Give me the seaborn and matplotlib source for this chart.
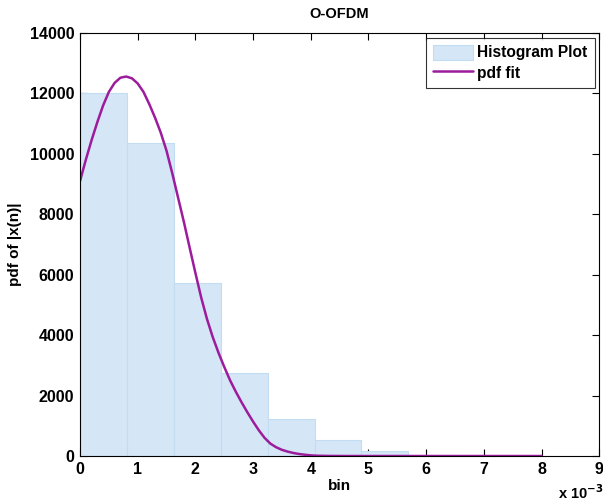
import numpy as np
import pandas as pd
import matplotlib
matplotlib.use("Agg")
import matplotlib.pyplot as plt
import seaborn as sns

# Data (x in units of 1e-3)
bin_edges = [0.0, 0.813, 1.626, 2.439, 3.252, 4.065, 4.878, 5.691, 6.504, 7.317, 8.13]
bin_counts = [12000, 10350, 5730, 2745, 1215, 530, 155, 35, 8, 2]
fit_x = [0.0, 0.1, 0.2, 0.3, 0.4, 0.5, 0.6, 0.7, 0.8, 0.9, 1.0, 1.1, 1.2, 1.3,
         1.4, 1.5, 1.6, 1.7, 1.8, 1.9, 2.0, 2.1, 2.2, 2.3, 2.4, 2.5, 2.6, 2.7,
         2.8, 2.9, 3.0, 3.1, 3.2, 3.3, 3.4, 3.5, 3.6, 3.7, 3.8, 3.9, 4.0, 4.1,
         4.3, 4.6, 5.0, 6.0, 7.0, 8.0]
fit_y = [9100, 9800, 10450, 11050, 11600, 12050, 12350, 12520, 12560, 12500,
         12330, 12050, 11650, 11200, 10700, 10100, 9350, 8550, 7750, 6900,
         6060, 5250, 4540, 3940, 3420, 2950, 2510, 2130, 1780, 1450, 1140, 850,
         600, 410, 290, 205, 145, 100, 66, 42, 22, 10,
         3, 0, 0, 0, 0, 0]
xticks = list(range(0, 10))
yticks = list(range(0, 14001, 2000))

sns.set_style("white")
plt.rcParams['font.family'] = ['Liberation Sans', 'DejaVu Sans']
plt.rcParams['font.weight'] = 'bold'
plt.rcParams['text.color'] = 'black'
plt.rcParams['axes.labelcolor'] = 'black'
plt.rcParams['xtick.color'] = 'black'
plt.rcParams['ytick.color'] = 'black'

fig = plt.figure(figsize=(6.03, 5.04), dpi=100)
ax = fig.add_axes([0.1327, 0.0952, 0.8610, 0.8393])

centers = [(bin_edges[i] + bin_edges[i + 1]) / 2 for i in range(len(bin_counts))]
hist_df = pd.DataFrame({"x": centers, "w": bin_counts})
sns.histplot(data=hist_df, x="x", weights="w", bins=bin_edges, ax=ax,
             color="#d5e6f7", edgecolor="#c2dcf2", linewidth=0.8, alpha=1.0)
fit_df = pd.DataFrame({"x": fit_x, "y": fit_y})
sns.lineplot(data=fit_df, x="x", y="y", ax=ax, color="#9c1c9c", linewidth=1.8)

ax.set_xlim(0, 9)
ax.set_ylim(0, 14000)
ax.set_xticks(xticks)
ax.set_yticks(yticks)
ax.set_xticklabels([str(t) for t in xticks], fontsize=11.5, fontweight='bold')
ax.set_yticklabels([str(t) for t in yticks], fontsize=11.5, fontweight='bold')
ax.tick_params(direction='in', length=5, width=0.8, top=True, right=True,
               bottom=True, left=True, colors='black', pad=4)
for s in ax.spines.values():
    s.set_visible(True)
    s.set_color('black')
    s.set_linewidth(0.8)

ax.set_title("O-OFDM", fontsize=10.5, fontweight='bold', pad=11, color='black')
ax.set_xlabel("bin", fontsize=11, fontweight='bold', labelpad=2)
ax.set_ylabel("pdf of |x(n)|", fontsize=11, fontweight='bold', labelpad=6)
fig.text(0.925, 0.010, r"x 10$^{\mathbf{-3}}$", fontsize=10.5, fontweight='bold',
         ha='left')

hist_patch = ax.patches[0]
line = ax.lines[0]
leg = ax.legend([hist_patch, line], ["Histogram Plot", "pdf fit"],
                loc='upper right', fontsize=11.2, frameon=True, fancybox=False,
                borderpad=0.45, handlelength=2.6, handleheight=1.1,
                handletextpad=0.25, labelspacing=0.3, borderaxespad=0.3)
leg.get_frame().set_edgecolor('black')
leg.get_frame().set_linewidth(0.8)
for t in leg.get_texts():
    t.set_fontweight('bold')

fig.savefig("out.png", dpi=100)
